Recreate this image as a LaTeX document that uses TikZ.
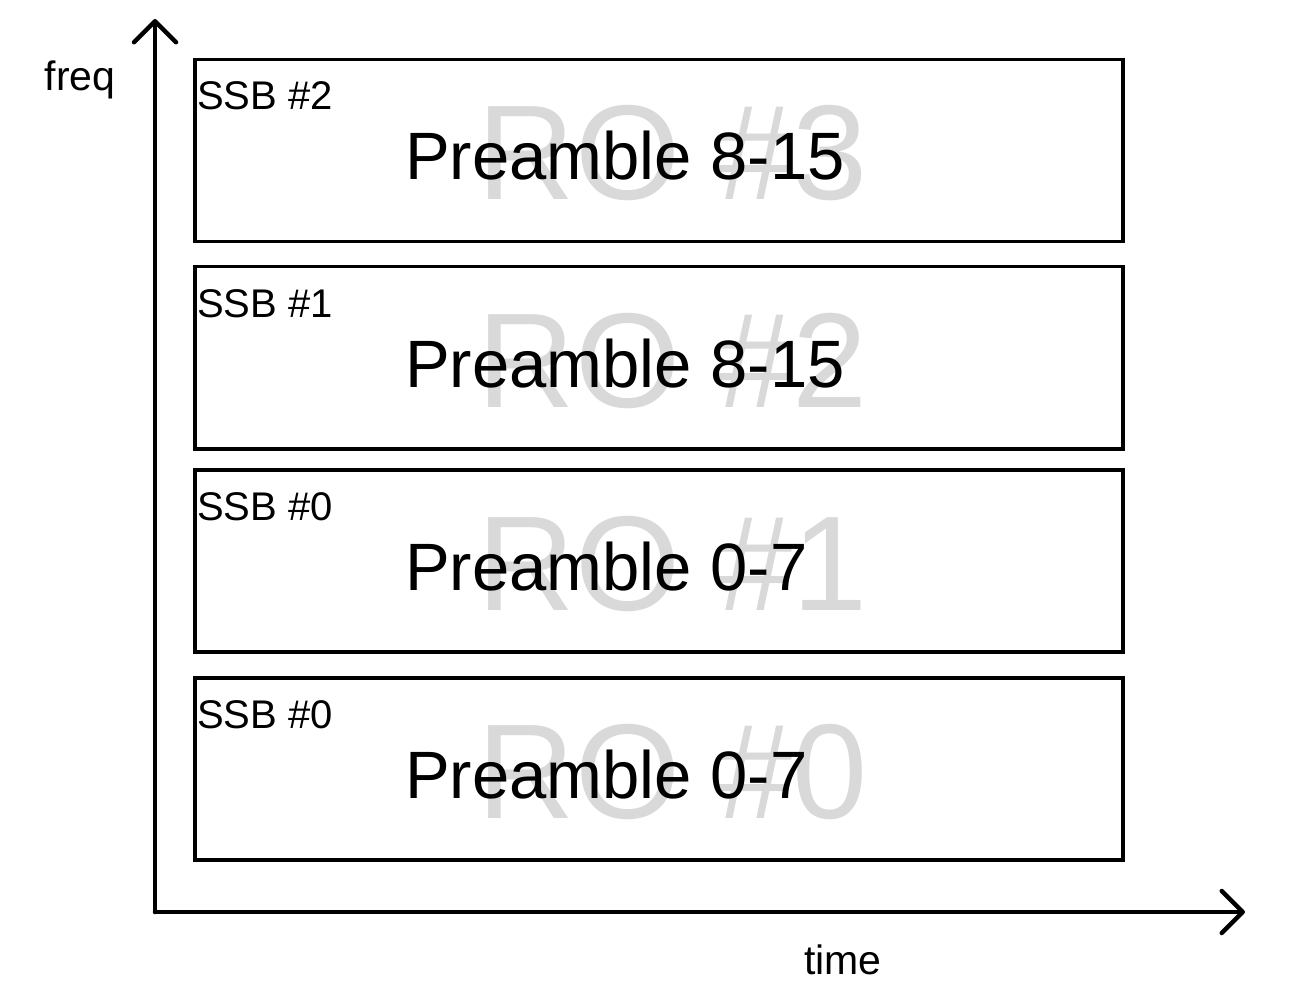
\documentclass[tikz,border=0pt]{standalone}
\usepackage{fontspec}
\setmainfont{Liberation Sans}
\usetikzlibrary{arrows.meta}
\definecolor{rogray}{RGB}{217,217,217}
\tikzset{
  robox/.style={draw=black, line width=3.5pt, rectangle, minimum width=928pt, minimum height=182pt, inner sep=0pt},
  rolabel/.style={font=\fontsize{135}{135}\selectfont, text=rogray, anchor=base, inner sep=0pt},
  prelabel/.style={font=\fontsize{67}{67}\selectfont, anchor=base west, inner sep=0pt},
  ssblabel/.style={font=\fontsize{40}{40}\selectfont, anchor=base west, inner sep=0pt},
  axislabel/.style={font=\fontsize{41}{41}\selectfont, inner sep=0pt},
  axis/.style={line width=4.5pt, line cap=round, -{Straight Barb[length=21pt, width=42pt, round]}}
}
\begin{document}
\begin{tikzpicture}[x=1pt,y=-1pt]
\useasboundingbox (0,0) rectangle (1315,1003);
% axes
\coordinate (origin) at (155,912);
\coordinate (ytop) at (155,19);
\coordinate (xend) at (1245,912);
\draw[axis] (origin) -- (ytop);
\draw[axis] (origin) -- (xend);
\node[axislabel] (freq) at (80,80) {freq};
\node[axislabel] (time) at (843,960) {time};
% boxes
\foreach \i/\top/\ro/\pre/\ssb in {3/58/RO \#3/Preamble 8-15/SSB \#2, 2/265/RO \#2/Preamble 8-15/SSB \#1, 1/468/RO \#1/Preamble 0-7/SSB \#0, 0/676/RO \#0/Preamble 0-7/SSB \#0}{
  \node[rolabel] (ro\i) at (673,\top+142) {\ro};
  \node[robox, anchor=north west] (box\i) at (193,\top) {};
  \node[prelabel] (pre\i) at (405,\top+122) {\pre};
  \node[ssblabel] (ssb\i) at (197,\top+52) {\ssb};
}
\end{tikzpicture}
\end{document}
